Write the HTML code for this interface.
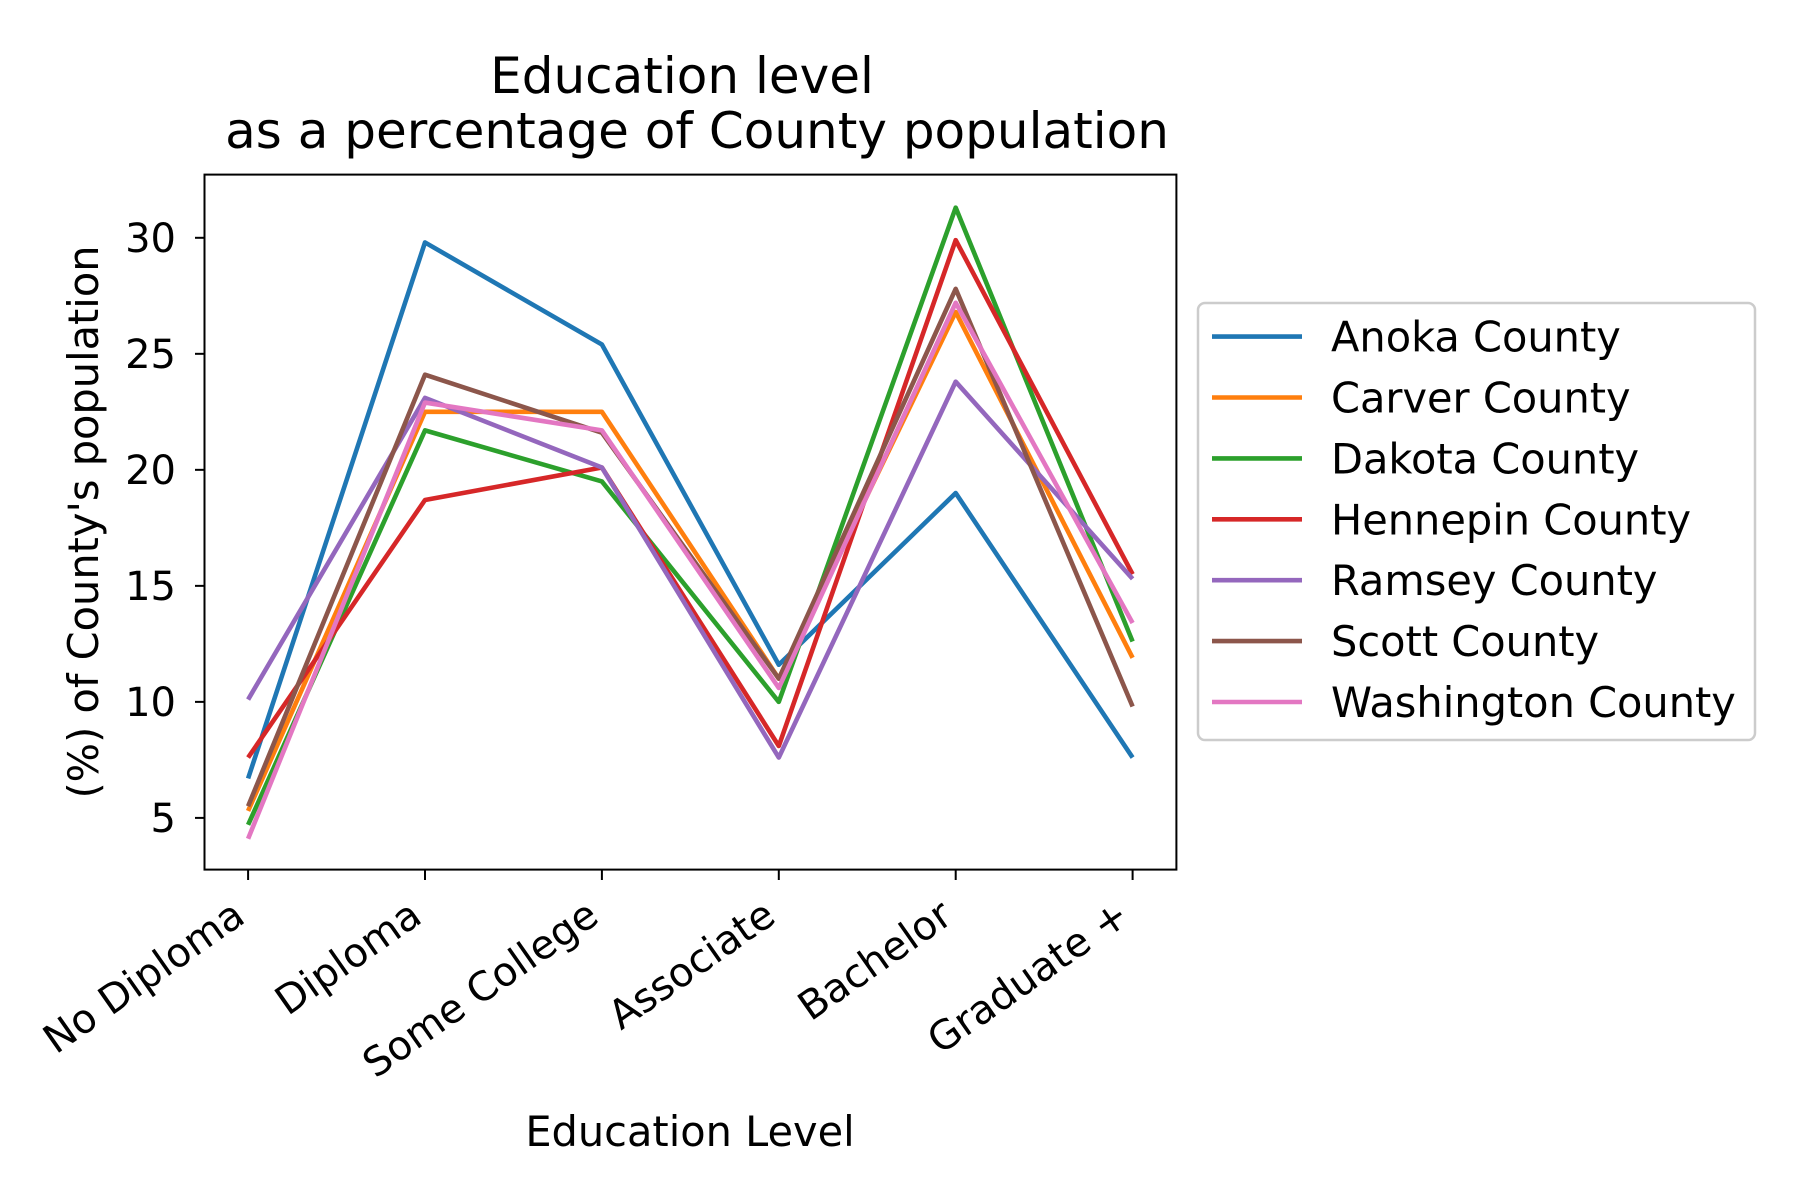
<!DOCTYPE html>
<html><head><meta charset="utf-8"><style>
html,body{margin:0;padding:0;background:#fff;}
svg{display:block;font-family:"DejaVu Sans","Liberation Sans",sans-serif;}
</style></head><body>
<svg id="chart" width="1800" height="1200" viewBox="0 0 1800 1200">
<rect width="1800" height="1200" fill="#fff"/>
<g id="title" font-size="50" text-anchor="middle" fill="#000">
<text x="682" y="93">Education level</text>
<text x="697" y="148">as a percentage of County population</text>
</g>
<g id="plot"></g>
<rect x="204.5" y="174.6" width="971.9" height="695" fill="none" stroke="#000" stroke-width="2"/>
<text x="690" y="1146" font-size="41.5" text-anchor="middle">Education Level</text>
<text transform="translate(98,522) rotate(-90)" font-size="41.5" text-anchor="middle">(%) of County's population</text>
<g id="legend"></g>
</svg>
<script>
const categories = ["No Diploma","Diploma","Some College","Associate","Bachelor","Graduate +"];
const seriesNames = ["Anoka County","Carver County","Dakota County","Hennepin County","Ramsey County","Scott County","Washington County"];
const anoka = [6.7, 29.8, 25.4, 11.6, 19.0, 7.6];
const carver = [5.3, 22.5, 22.5, 11.0, 26.8, 11.9];
const dakota = [4.7, 21.7, 19.5, 10.0, 31.3, 12.6];
const hennepin = [7.6, 18.7, 20.1, 8.1, 29.9, 15.5];
const ramsey = [10.1, 23.1, 20.1, 7.6, 23.8, 15.3];
const scott = [5.5, 24.1, 21.6, 11.0, 27.8, 9.8];
const washington = [4.1, 22.9, 21.7, 10.6, 27.2, 13.4];
const yTicks = [5, 10, 15, 20, 25, 30];
const seriesValues = [anoka, carver, dakota, hennepin, ramsey, scott, washington];
const colors = ["#1f77b4","#ff7f0e","#2ca02c","#d62728","#9467bd","#8c564b","#e377c2"];

const NS = "http://www.w3.org/2000/svg";
const x = i => 248.1 + i * 176.9;
const y = v => 817.9 - (v - 5) * (817.9 - 237.8) / 25;
const plot = document.getElementById('plot');
function mk(tag, attrs, parent){const e=document.createElementNS(NS,tag);for(const k in attrs)e.setAttribute(k,attrs[k]);parent.appendChild(e);return e;}

yTicks.forEach(t=>{
  const g = mk('g',{},plot);
  
  
  mk('line',{x1:195,x2:204.5,y1:y(t),y2:y(t),stroke:'#000','stroke-width':2},g);
  const tx = mk('text',{x:176,y:y(t)+14,'font-size':40,'text-anchor':'end'},g);
  tx.textContent = t;
});
categories.forEach((c,i)=>{
  const g = mk('g',{},plot);
  
  
  mk('line',{x1:x(i),x2:x(i),y1:870,y2:880,stroke:'#000','stroke-width':2},g);
  const tx = mk('text',{transform:`translate(${x(i)-1},${921}) rotate(-35)`,'font-size':40,'text-anchor':'end'},g);
  tx.textContent = c;
});
seriesValues.forEach((vals,s)=>{
  const p = mk('polyline',{points:vals.map((v,i)=>x(i)+','+y(v)).join(' '),fill:'none',stroke:colors[s],'stroke-width':4.6,'stroke-linejoin':'round'},plot);
  
  
});
const leg = document.getElementById('legend');
const box = mk('rect',{x:1198,y:303,width:557,height:437,rx:7,fill:'#fff',stroke:'#ccc','stroke-width':2.5},leg);


seriesNames.forEach((n,s)=>{
  const ly = 336.6 + s * 60.9;
  const g = mk('g',{},leg);
  
  
  mk('line',{x1:1212,x2:1302,y1:ly,y2:ly,stroke:colors[s],'stroke-width':4.6},g);
  const t = mk('text',{x:1331,y:ly+15,'font-size':41.5},g);
  t.textContent = n;
});
</script>
</body></html>
